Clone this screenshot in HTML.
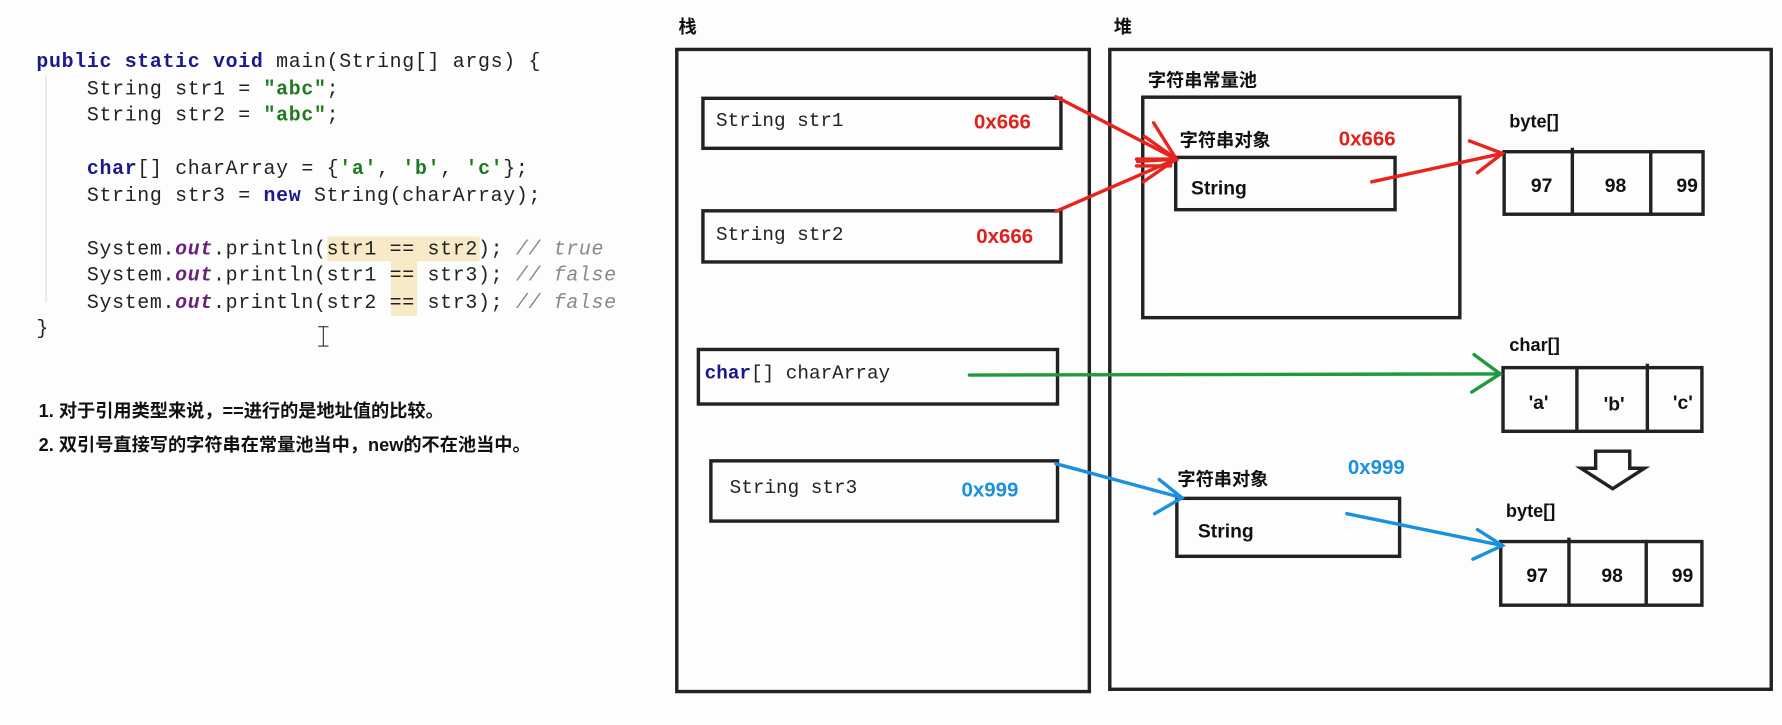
<!DOCTYPE html>
<html><head><meta charset="utf-8"><style>
html,body{margin:0;padding:0;background:#fff;width:1782px;height:725px;overflow:hidden}
#w{position:absolute;left:0;top:0;width:1568px;height:638px;transform:scale(1.1365);transform-origin:0 0;background:#fdfdfd}
.a{position:absolute}
.code{font-family:"Liberation Mono",monospace;font-size:17.5px;letter-spacing:0.6px;color:#222;white-space:pre;line-height:23.5px}
.kw{color:#1a1a8c;font-weight:bold}.st{color:#1d7a1d;font-weight:bold}.it{color:#6a1f7a;font-style:italic;font-weight:bold}.cm{color:#888;font-style:italic}
.cn{font-family:"Liberation Sans","Noto Sans CJK SC",sans-serif;font-weight:bold;color:#111}
.box{position:absolute;border:3px solid #222;box-sizing:border-box}
.mono{font-family:"Liberation Mono",monospace;font-size:17px;color:#222}
.red{color:#e0201a;font-family:"Liberation Sans",sans-serif;font-weight:bold;font-size:18px}
.blue{color:#1a90e0;font-family:"Liberation Sans",sans-serif;font-weight:bold;font-size:18px}
.cell{font-family:"Liberation Sans",sans-serif;font-weight:bold;font-size:17px;color:#111}
</style></head><body><div id="w">
<div class="a" style="left:288px;top:208px;width:134px;height:22px;background:#f6ebc6"></div>
<div class="a" style="left:344px;top:230px;width:23px;height:48px;background:#f6ebc6"></div>
<div class="a" style="left:40px;top:66px;width:1px;height:200px;background:#ddd"></div>
<div class="a code" style="left:32px;top:44px"><span class="kw">public static void</span> main(String[] args) {
    String str1 = <span class="st">"abc"</span>;
    String str2 = <span class="st">"abc"</span>;

    <span class="kw">char</span>[] charArray = {<span class="st">'a'</span>, <span class="st">'b'</span>, <span class="st">'c'</span>};
    String str3 = <span class="kw">new</span> String(charArray);

    System.<span class="it">out</span>.println(str1 == str2); <span class="cm">// true</span>
    System.<span class="it">out</span>.println(str1 == str3); <span class="cm">// false</span>
    System.<span class="it">out</span>.println(str2 == str3); <span class="cm">// false</span>
}</div>
<div class="a" style="left:284px;top:287px;width:1px;height:17px;background:#333"></div>
<div class="a" style="left:280px;top:287px;width:9px;height:1px;background:#333"></div>
<div class="a" style="left:280px;top:304px;width:9px;height:1px;background:#333"></div>
<div class="a cn" style="left:34px;top:348px;font-size:16px">1. 对于引用类型来说，==进行的是地址值的比较。</div>
<div class="a cn" style="left:34px;top:378px;font-size:16px">2. 双引号直接写的字符串在常量池当中，new的不在池当中。</div>

<div class="a cn" style="left:597px;top:10px;font-size:16px">栈</div>
<div class="a cn" style="left:980px;top:10px;font-size:16px">堆</div>
<div class="box" style="left:594px;top:42px;width:366px;height:568px"></div>
<div class="box" style="left:975px;top:42px;width:585px;height:566px"></div>

<div class="box" style="left:617px;top:85px;width:318px;height:47px"></div>
<div class="a mono" style="left:630px;top:98px">String str1</div><div class="a red" style="left:857px;top:97px">0x666</div>
<div class="box" style="left:617px;top:184px;width:318px;height:48px"></div>
<div class="a mono" style="left:630px;top:198px">String str2</div><div class="a red" style="left:859px;top:198px">0x666</div>
<div class="box" style="left:613px;top:306px;width:319px;height:51px"></div>
<div class="a mono" style="left:620px;top:320px"><span class="kw" style="font-size:17px">char</span>[] charArray</div>
<div class="box" style="left:624px;top:404px;width:308px;height:56px"></div>
<div class="a mono" style="left:642px;top:421px">String str3</div><div class="a blue" style="left:846px;top:421px">0x999</div>

<div class="a cn" style="left:1010px;top:57px;font-size:16px">字符串常量池</div>
<div class="box" style="left:1004px;top:84px;width:282px;height:197px"></div>
<div class="a cn" style="left:1038px;top:110px;font-size:16px">字符串对象</div><div class="a red" style="left:1178px;top:112px">0x666</div>
<div class="box" style="left:1033px;top:137px;width:196px;height:49px"></div>
<div class="a cell" style="left:1048px;top:156px">String</div>
<div class="a cn" style="left:1328px;top:99px;font-size:16px">byte[]</div>
<div class="box" style="left:1322px;top:132px;width:178px;height:58px"></div>
<div class="a" style="left:1382px;top:130px;width:3px;height:58px;background:#222"></div>
<div class="a" style="left:1451px;top:132px;width:3px;height:56px;background:#222"></div>
<div class="a cell" style="left:1347px;top:154px">97</div><div class="a cell" style="left:1412px;top:154px">98</div><div class="a cell" style="left:1475px;top:154px">99</div>

<div class="a cn" style="left:1328px;top:296px;font-size:16px">char[]</div>
<div class="box" style="left:1321px;top:322px;width:178px;height:59px"></div>
<div class="a" style="left:1386px;top:322px;width:3px;height:57px;background:#222"></div>
<div class="a" style="left:1448px;top:320px;width:3px;height:59px;background:#222"></div>
<div class="a cell" style="left:1345px;top:345px">'a'</div><div class="a cell" style="left:1411px;top:346px">'b'</div><div class="a cell" style="left:1472px;top:345px">'c'</div>

<div class="a cn" style="left:1036px;top:408px;font-size:16px">字符串对象</div><div class="a blue" style="left:1186px;top:401px">0x999</div>
<div class="box" style="left:1034px;top:437px;width:199px;height:54px"></div>
<div class="a cell" style="left:1054px;top:458px">String</div>
<div class="a cn" style="left:1325px;top:442px;font-size:16px">byte[]</div>
<div class="box" style="left:1319px;top:475px;width:180px;height:59px"></div>
<div class="a" style="left:1379px;top:473px;width:3px;height:59px;background:#222"></div>
<div class="a" style="left:1447px;top:475px;width:3px;height:57px;background:#222"></div>
<div class="a cell" style="left:1343px;top:497px">97</div><div class="a cell" style="left:1409px;top:497px">98</div><div class="a cell" style="left:1471px;top:497px">99</div>

<svg class="a" style="left:0;top:0" width="1568" height="638">
<g fill="none" stroke-width="3" stroke-linecap="round">
<g stroke="#e8241c">
<line x1="929" y1="85" x2="1035" y2="140"/><line x1="929" y1="186" x2="1035" y2="140"/>
<polyline points="1015,108 1035,140 1001,142"/><polyline points="1006,160 1035,140 1007,120"/>
<line x1="1000" y1="140" x2="1030" y2="140"/><line x1="1000" y1="146" x2="1030" y2="146"/>
<line x1="1207" y1="160" x2="1322" y2="135"/><polyline points="1293,124 1322,135 1300,152"/>
</g>
<g stroke="#1f9a3c"><line x1="853" y1="330" x2="1320" y2="329"/><polyline points="1297,312 1320,329 1295,345"/></g>
<g stroke="#1a90e0"><line x1="929" y1="408" x2="1040" y2="438"/><polyline points="1020,422 1040,438 1016,452"/>
<line x1="1185" y1="452" x2="1322" y2="480"/><polyline points="1300,466 1322,480 1296,492"/></g>
<polygon points="1404,397 1434,397 1434,412 1447,412 1419,430 1391,412 1404,412" stroke="#222" fill="#fff"/>
</g></svg>
</div></body></html>
